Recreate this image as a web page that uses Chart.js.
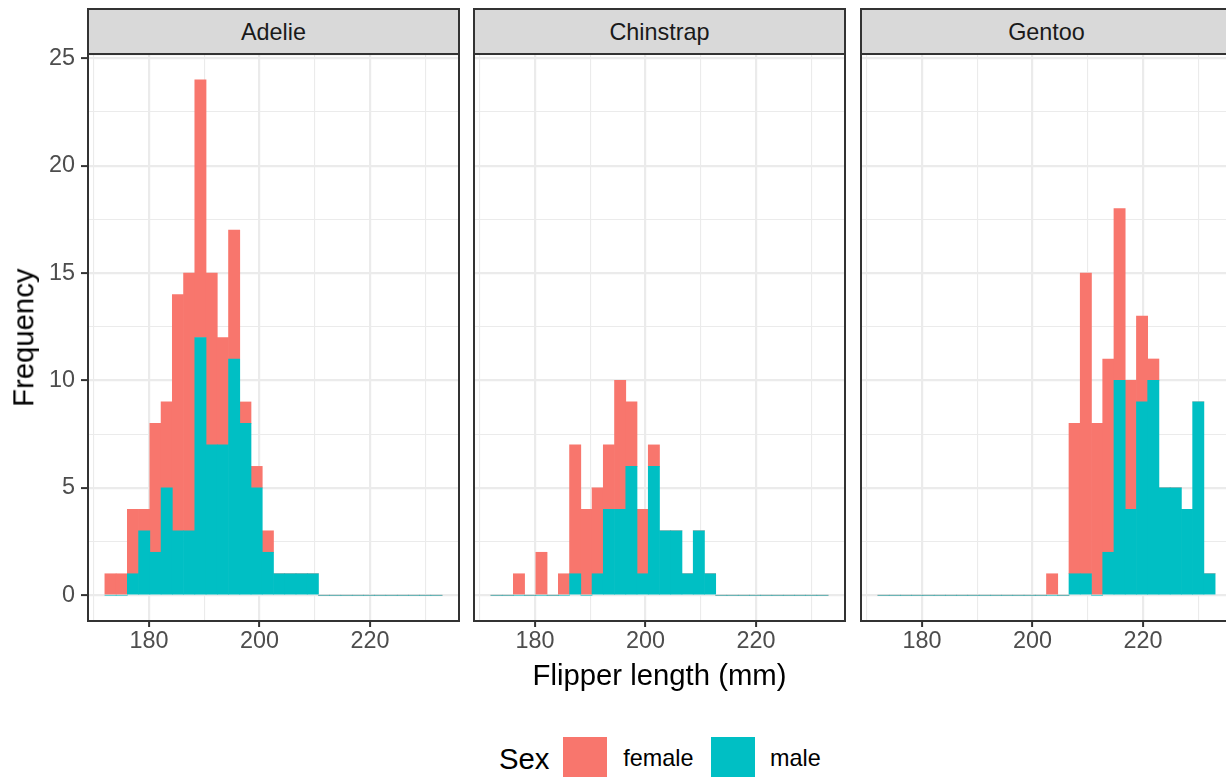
<!DOCTYPE html>
<html>
<head>
<meta charset="utf-8">
<script src="https://cdn.jsdelivr.net/npm/chart.js@4.4.1/dist/chart.umd.min.js"></script>
<style>
  body { margin: 0; width: 1226px; height: 777px; overflow: hidden; background: #fff; position: relative;
         font-family: "Liberation Sans", Arial, sans-serif; }
  canvas { position: absolute; top: 34px; }
  .strip { position: absolute; top: 8px; height: 47px; width: 373px; box-sizing: border-box;
           background: #d9d9d9; border: 2px solid #333333; color: #1a1a1a; font-size: 23.4px;
           line-height: 23.4px; text-align: center; padding-top: 10.9px; }
  .title { position: absolute; font-size: 29.3px; line-height: 29.3px; color: #000; white-space: nowrap; }
  .key { position: absolute; top: 736.7px; width: 43.7px; height: 43.7px; }
  .keytext { position: absolute; top: 746.9px; font-size: 23.4px; line-height: 23.4px; color: #000; }
</style>
</head>
<body>
<div class="strip" style="left:87px">Adelie</div>
<div class="strip" style="left:473px">Chinstrap</div>
<div class="strip" style="left:860px">Gentoo</div>

<canvas id="adelie" width="469" height="647" style="left:0px"></canvas>
<canvas id="chinstrap" width="401" height="647" style="left:454px"></canvas>
<canvas id="gentoo" width="401" height="647" style="left:841px"></canvas>

<div class="title" style="left:-177px; top:322.85px; width:400px; text-align:center; transform:rotate(-90deg)">Frequency</div>
<div class="title" style="left:459.5px; top:659.5px; width:400px; text-align:center">Flipper length (mm)</div>

<div class="title" style="left:499px; top:743.5px">Sex</div>
<div class="key" style="left:563.3px; background:#F8766D"></div>
<div class="keytext" style="left:623.3px">female</div>
<div class="key" style="left:711px; background:#00BFC4"></div>
<div class="keytext" style="left:770px">male</div>

<script>
// 30 histogram bins of width ~2.0345 mm, starting at 172 mm (bin centres)
const binMids = [173.017, 175.052, 177.086, 179.121, 181.155, 183.190, 185.224, 187.259, 189.293, 191.328,
                 193.362, 195.397, 197.431, 199.466, 201.500, 203.534, 205.569, 207.603, 209.638, 211.672,
                 213.707, 215.741, 217.776, 219.810, 221.845, 223.879, 225.914, 227.948, 229.983, 232.017];

const adelieMale     = [0, 0, 1, 3, 2, 5, 3, 3, 12, 7, 7, 11, 8, 5, 2, 1, 1, 1, 1, 0, 0, 0, 0, 0, 0, 0, 0, 0, 0, 0];
const adelieFemale   = [1, 1, 3, 1, 6, 4, 11, 12, 12, 8, 5, 6, 1, 1, 1, 0, 0, 0, 0, 0, 0, 0, 0, 0, 0, 0, 0, 0, 0, 0];
const chinstrapMale  = [0, 0, 0, 0, 0, 0, 0, 1, 0, 1, 4, 4, 6, 1, 6, 3, 3, 1, 3, 1, 0, 0, 0, 0, 0, 0, 0, 0, 0, 0];
const chinstrapFemale= [0, 0, 1, 0, 2, 0, 1, 6, 4, 4, 3, 6, 3, 3, 1, 0, 0, 0, 0, 0, 0, 0, 0, 0, 0, 0, 0, 0, 0, 0];
const gentooMale     = [0, 0, 0, 0, 0, 0, 0, 0, 0, 0, 0, 0, 0, 0, 0, 0, 0, 1, 1, 0, 2, 10, 4, 9, 10, 5, 5, 4, 9, 1];
const gentooFemale   = [0, 0, 0, 0, 0, 0, 0, 0, 0, 0, 0, 0, 0, 0, 0, 1, 0, 7, 14, 8, 9, 8, 6, 4, 1, 0, 0, 0, 0, 0];

const xMajor = [180, 200, 220];
const xMinor = [170, 190, 210, 230];
const yMajor = [0, 5, 10, 15, 20, 25];
const yMinor = [2.5, 7.5, 12.5, 17.5, 22.5];

const xMin = 168.948, xMax = 236.086;
const yMin = -1.2, yMax = 25.2;

const FEMALE = '#F8766D', MALE = '#00BFC4';
const GRID = '#EBEBEB', DARK = '#333333', TICKTXT = '#4D4D4D';

Chart.defaults.font.family = '"Liberation Sans", Arial, sans-serif';

function isIn(list, v) { return list.some(m => Math.abs(m - v) < 1e-6); }
function tickList(a, b) { return [...a, ...b].sort((p, q) => p - q).map(v => ({ value: v })); }

// dark frame round each panel, drawn over the bars
const panelFrame = {
    id: 'panelFrame',
    afterDraw(chart) {
        const { ctx, chartArea: a } = chart;
        ctx.save();
        ctx.strokeStyle = DARK;
        ctx.lineWidth = 2;
        ctx.strokeRect(a.left, a.top, a.right - a.left, a.bottom - a.top);
        ctx.restore();
    }
};

function makePanel(id, male, female, showY) {
    const ctx = document.getElementById(id).getContext('2d');
    return new Chart(ctx, {
        type: 'bar',
        data: {
            datasets: [
                { label: 'male', data: binMids.map((x, i) => ({ x, y: male[i] })), backgroundColor: MALE },
                { label: 'female', data: binMids.map((x, i) => ({ x, y: female[i] })), backgroundColor: FEMALE }
            ]
        },
        options: {
            responsive: false,
            animation: false,
            devicePixelRatio: 1,
            layout: { padding: { top: 20, right: 10, bottom: 0, left: showY ? 0 : 20 } },
            datasets: { bar: { barPercentage: 1, categoryPercentage: 1, borderWidth: 0 } },
            plugins: { legend: { display: false }, tooltip: { enabled: false } },
            scales: {
                x: {
                    type: 'linear', min: xMin, max: xMax, offset: false, stacked: true,
                    afterBuildTicks: s => { s.ticks = tickList(xMinor, xMajor); },
                    afterFit: s => { s.height = 60; },
                    grid: {
                        offset: false, color: GRID,
                        lineWidth: c => isIn(xMajor, c.tick.value) ? 2.2 : 1.1,
                        tickLength: 6, tickWidth: 2,
                        tickColor: c => isIn(xMajor, c.tick.value) ? DARK : 'rgba(0,0,0,0)'
                    },
                    border: { display: false },
                    ticks: {
                        autoSkip: false, maxRotation: 0, padding: 1, color: TICKTXT, font: { size: 23.4 },
                        callback: v => isIn(xMajor, v) ? String(v) : ''
                    }
                },
                y: {
                    min: yMin, max: yMax, stacked: true,
                    afterBuildTicks: s => { s.ticks = tickList(yMinor, yMajor); },
                    afterFit: s => { s.width = showY ? 88 : 0; },
                    grid: {
                        color: GRID,
                        lineWidth: c => isIn(yMajor, c.tick.value) ? 2.2 : 1.1,
                        drawTicks: showY, tickLength: 7, tickWidth: 2,
                        tickColor: c => isIn(yMajor, c.tick.value) ? DARK : 'rgba(0,0,0,0)'
                    },
                    border: { display: false },
                    ticks: {
                        display: showY, padding: 6, color: TICKTXT, font: { size: 23.4 },
                        callback: v => isIn(yMajor, v) ? String(v) : ''
                    }
                }
            }
        },
        plugins: [panelFrame]
    });
}

makePanel('adelie', adelieMale, adelieFemale, true);
makePanel('chinstrap', chinstrapMale, chinstrapFemale, false);
makePanel('gentoo', gentooMale, gentooFemale, false);
</script>
</body>
</html>
